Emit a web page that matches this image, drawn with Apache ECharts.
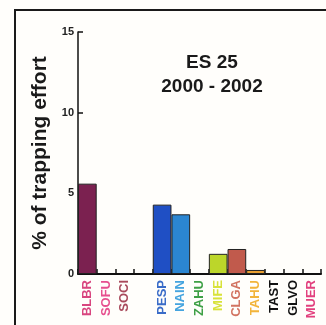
<!DOCTYPE html>
<html>
<head>
<meta charset="utf-8">
<script src="https://cdn.jsdelivr.net/npm/echarts@6/dist/echarts.min.js"></script>
<style>
  html, body { margin: 0; padding: 0; background: #fffefb; }
  #chart { width: 326px; height: 325px; }
</style>
</head>
<body>
<div id="chart"></div>
<script>
// Species codes along the x axis (blank slot separates the two groups)
const categories = ['BLBR', 'SOFU', 'SOCI', '', 'PESP', 'NAIN', 'ZAHU', 'MIFE', 'CLGA', 'TAHU', 'TAST', 'GLVO', 'MUER'];
// Percentage of trapping effort per species
const values = [5.6, 0, 0, 0, 4.3, 3.7, 0, 1.25, 1.55, 0.25, 0, 0, 0];
// Bar fill per species
const barColors = ['#7b2150', '#d94a88', '#a0455a', '#ffffff', '#1f4fc4', '#2b86d2', '#3a9a3a', '#bcd62a', '#c15a4c', '#e9a032', '#111111', '#111111', '#e0357a'];
// Label colour per species
const labelColors = ['#d8457f', '#e6508f', '#a94a5c', '#000000', '#3a6cc8', '#45a4df', '#3fa046', '#d8e23a', '#d27462', '#f2b43a', '#111111', '#111111', '#e2407e'];
const yTicks = [0, 5, 10, 15];

const chart = echarts.init(document.getElementById('chart'), null, { renderer: 'canvas' });

chart.setOption({
  backgroundColor: '#fffefb',
  animation: false,
  title: {
    text: 'ES 25\n2000 - 2002',
    left: 207,
    top: 46,
    textAlign: 'center',
    textStyle: {
      fontFamily: 'Liberation Sans',
      fontWeight: 'bold',
      fontSize: 19,
      lineHeight: 24,
      color: '#1a1a1a'
    }
  },
  grid: { left: 78, right: 5, top: 32, bottom: 51 },
  xAxis: {
    type: 'category',
    data: categories.map((c, i) => ({ value: c, textStyle: { color: labelColors[i] } })),
    boundaryGap: true,
    axisLine: { lineStyle: { color: '#111', width: 2 } },
    axisTick: { show: true, inside: true, length: 5, lineStyle: { color: '#111', width: 1.5 } },
    axisLabel: {
      interval: 0,
      rotate: 90,
      margin: 6,
      fontFamily: 'Liberation Sans',
      fontWeight: 'bold',
      fontSize: 13
    },
    splitLine: { show: false }
  },
  yAxis: {
    type: 'value',
    min: yTicks[0],
    max: yTicks[yTicks.length - 1],
    interval: 5,
    name: '% of trapping effort',
    nameLocation: 'middle',
    nameGap: 24,
    nameTextStyle: {
      fontFamily: 'Liberation Sans',
      fontWeight: 'bold',
      fontSize: 21,
      color: '#1a1a1a'
    },
    axisLine: { show: true, lineStyle: { color: '#111', width: 1.5 } },
    axisTick: { show: true, inside: true, length: 5, lineStyle: { color: '#111', width: 1.5 } },
    axisLabel: {
      margin: 4,
      fontFamily: 'Liberation Sans',
      fontWeight: 'bold',
      fontSize: 11,
      color: '#222'
    },
    splitLine: { show: false }
  },
  series: [{
    type: 'bar',
    barWidth: '100%',
    barCategoryGap: '0%',
    data: values.map((v, i) => ({
      value: v,
      itemStyle: { color: barColors[i], borderColor: '#222', borderWidth: v > 0 ? 1 : 0 }
    }))
  }],
  graphic: [{
    type: 'polyline',
    shape: { points: [[15, 330], [15, 10], [330, 10]] },
    style: { stroke: '#1a1a1a', lineWidth: 2, fill: null },
    silent: true
  }]
});
</script>
</body>
</html>
